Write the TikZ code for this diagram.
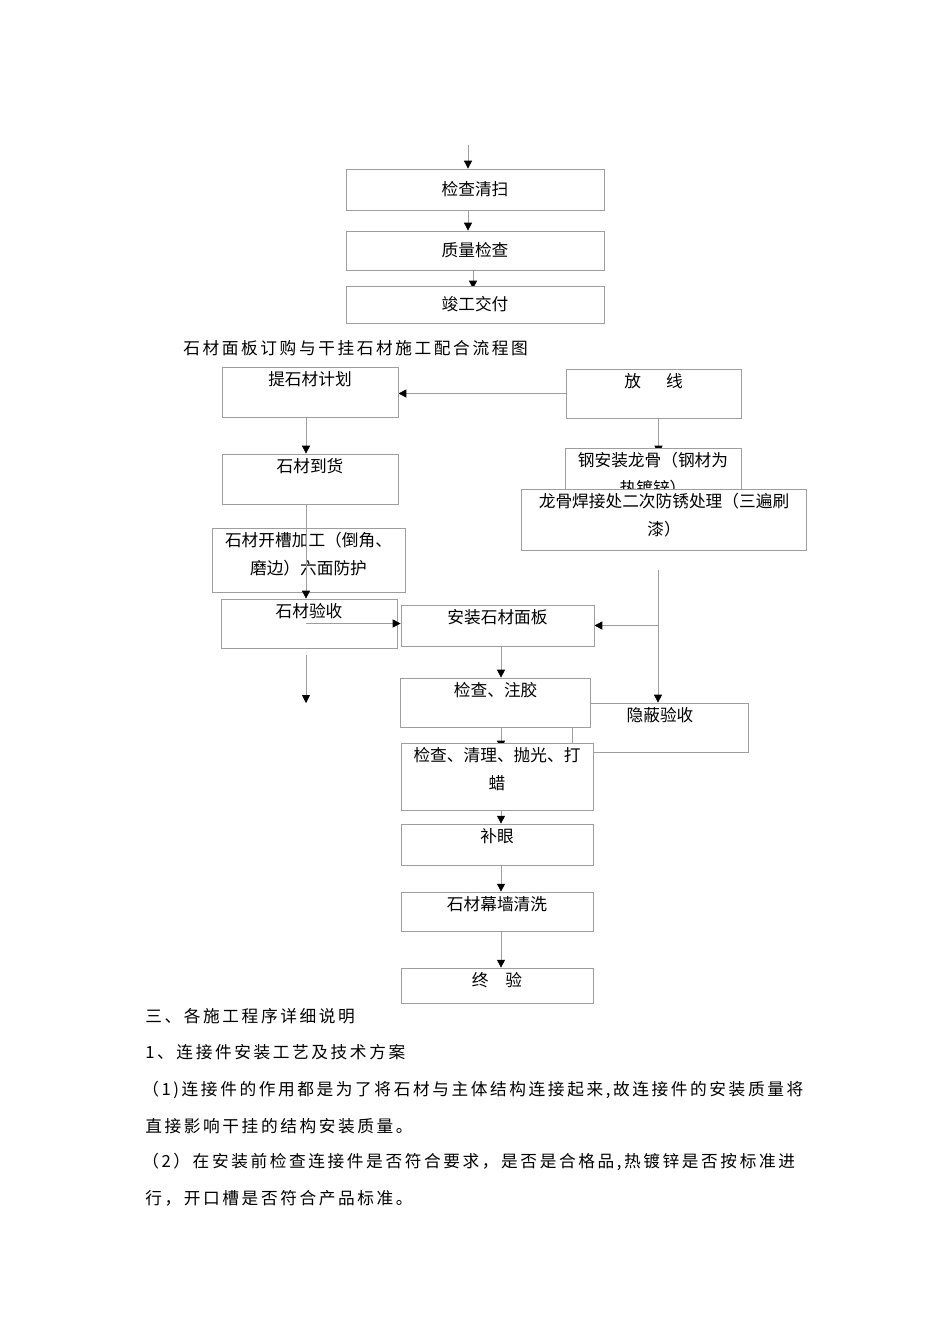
\documentclass[tikz,border=0pt]{standalone}
\usepackage{fontspec}
\newfontfamily\cjk{Noto Sans CJK SC}
\newfontfamily\cjkwide[LetterSpace=15.5]{Noto Sans CJK SC}
\usetikzlibrary{arrows.meta,backgrounds}
\definecolor{linegray}{gray}{0.62}
\newcommand{\pxu}{0.02cm}
\tikzset{
  box/.style 2 args={draw=linegray, fill=white, minimum width=#1*\pxu, minimum height=#2*\pxu, inner sep=0pt, font=\cjk\fontsize{9.5}{16}\selectfont},
  lbl/.style={anchor=north, font=\cjk\fontsize{9.5}{16}\selectfont, align=center, inner xsep=0pt, inner ysep=2.5pt},
  arr/.style={draw=linegray, -{Triangle[width=4.5pt,length=4.5pt,color=black,fill=black]}},
  body/.style={anchor=west, font=\cjkwide\fontsize{9.5}{12}\selectfont, inner sep=0pt}
}
\begin{document}
\begin{tikzpicture}[x=0.02cm, y=-0.02cm]
\useasboundingbox (0,0) rectangle (950,1344);
% columns of the connectors
\coordinate (top) at (468,145);
\coordinate (lft) at (306,0);
\coordinate (mid) at (501,0);
\coordinate (rtop) at (658,570);
\coordinate (ldown) at (306,655);
\coordinate (lend) at (306,703);

% end of the previous flow
\node[box={258}{41}, text depth=0.06cm] (clean) at (475,189.5) {检查清扫};
\node[box={258}{39}, text depth=0.06cm] (quality) at (475,250.5) {质量检查};
\node[box={258}{37}, text depth=0.04cm] (handover) at (475,304.5) {竣工交付};

\node[body] (title) at (183,348) {石材面板订购与干挂石材施工配合流程图};

% stone supply
\node[box={176}{50}, label={[lbl]north:提石材计划}] (plan) at (310,392) {};
\node[box={176}{50}, label={[lbl]north:石材到货}] (arrive) at (310,479) {};
\node[box={193}{64}, label={[lbl]north:石材开槽加工（倒角、\\磨边）六面防护}] (groove) at (308.5,560) {};
\node[box={176}{49}, label={[lbl]north:石材验收}] (accept) at (309,623.5) {};

% steel frame
\node[box={175}{49}, label={[lbl]north:放\hspace{1.5em}线}] (layout) at (653.5,393.5) {};
\node[box={176}{52}, label={[lbl]north:钢安装龙骨（钢材为\\热镀锌）}] (keel) at (653,474) {};
\node[box={285}{61}, label={[lbl]north:龙骨焊接处二次防锈处理（三遍刷\\漆）}] (weld) at (664,519.5) {};

% mounting
\node[box={193}{41}, label={[lbl]north:安装石材面板}] (install) at (497.5,625.5) {};
\node[box={176}{49}, label={[lbl]north:隐蔽验收}] (hidden) at (660,727.5) {};
\node[box={190}{49}, label={[lbl]north:检查、注胶}] (seal) at (495.7,702.5) {};
\node[box={192}{67}, label={[lbl]north:检查、清理、抛光、打\\蜡}] (polish) at (497,776.5) {};
\node[box={192}{41}, label={[lbl]north:补眼}] (patch) at (497,844.5) {};
\node[box={192}{39}, label={[lbl]north:石材幕墙清洗}] (wash) at (497,911.5) {};
\node[box={192}{35}, label={[lbl]north:终　验}] (final) at (497,985.5) {};

\begin{scope}[on background layer]
  \draw[arr] (top) -- (top |- clean.north);
  \draw[arr] (clean.south -| top) -- (quality.north -| top);
  \draw[arr, shorten >=-0.06cm] ([xshift=-0.04cm]quality.south) -- ([xshift=-0.04cm]handover.north);
  \draw[arr] (layout.west) -- (layout.west -| plan.east);
  \draw[arr, shorten >=-0.12cm] ([xshift=0.1cm]layout.south) -- ([xshift=0.1cm]layout.south |- keel.north);
  \draw[arr] (plan.south -| lft) -- (arrive.north -| lft);
  \draw[arr] (install.south -| mid) -- (seal.north -| mid);
  \draw[arr, shorten >=-0.12cm] (seal.south -| mid) -- (polish.north -| mid);
  \draw[arr] (polish.south -| mid) -- (patch.north -| mid);
  \draw[arr] (patch.south -| mid) -- (wash.north -| mid);
  \draw[arr] (wash.south -| mid) -- (final.north -| mid);
  \draw[arr] (ldown) -- (lend);
  \draw[arr] (rtop) -- (rtop |- hidden.north);
  \draw[arr] (rtop |- install.east) -- (install.east);
\end{scope}
% these run over the boxes
\draw[arr] (arrive.south -| lft) -- (accept.north -| lft);
\draw[arr] (accept.center -| lft) -- (accept.center -| install.west);

% text below the chart
\node[body] (sec) at (145,1016) {三、各施工程序详细说明};
\node[body] (sub) at (145,1052) {1、连接件安装工艺及技术方案};
\node[body] (para1) at (142,1090) {（1)连接件的作用都是为了将石材与主体结构连接起来,故连接件的安装质量将};
\node[body] (para1b) at (145,1126) {直接影响干挂的结构安装质量。};
\node[body] (para2) at (142,1162) {（2）在安装前检查连接件是否符合要求，是否是合格品,热镀锌是否按标准进};
\node[body] (para2b) at (145,1198) {行，开口槽是否符合产品标准。};
\end{tikzpicture}
\end{document}
